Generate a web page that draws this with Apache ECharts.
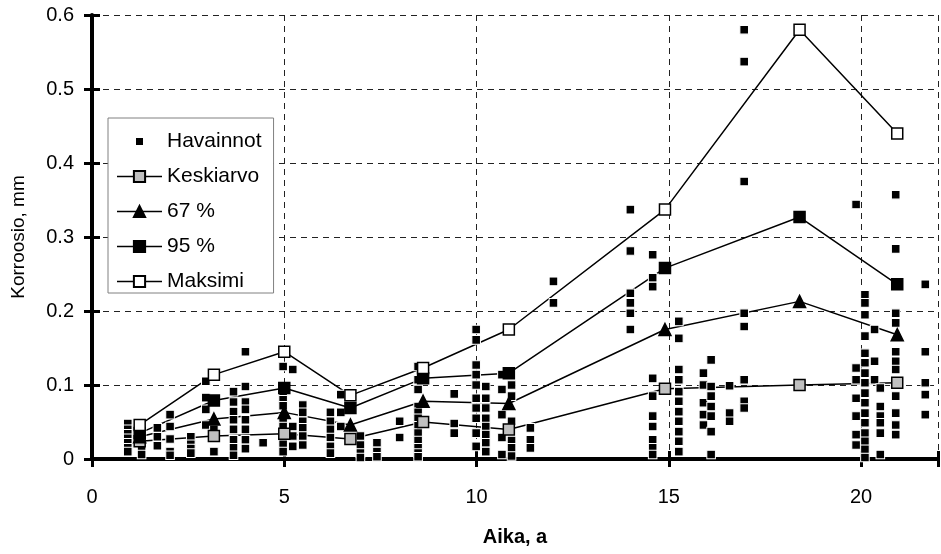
<!DOCTYPE html>
<html>
<head>
<meta charset="utf-8">
<title>Korroosio</title>
<script src="https://cdn.jsdelivr.net/npm/echarts@6/dist/echarts.min.js"></script>
<style>
  html, body { margin: 0; padding: 0; background: #fff; }
  #chart { width: 941px; height: 554px; }
</style>
</head>
<body>
<div id="chart"></div>
<script>
// Summary curves: time (years) and corrosion depth (mm)
const lineX    = [1.24, 3.17, 5.0, 6.72, 8.61, 10.84, 14.9, 18.4, 20.94];
const keskiarvo = [0.024, 0.031, 0.034, 0.027, 0.050, 0.040, 0.095, 0.100, 0.103];
const p67       = [0.030, 0.054, 0.063, 0.046, 0.078, 0.075, 0.175, 0.213, 0.168];
const p95       = [0.035, 0.079, 0.096, 0.069, 0.109, 0.116, 0.258, 0.327, 0.236];
const maksimi   = [0.046, 0.114, 0.145, 0.086, 0.123, 0.175, 0.337, 0.580, 0.440];

// Individual observations, grouped by measurement time
const obsX = [0.93, 1.29, 1.70, 2.03, 2.57, 2.96, 3.17, 3.68, 3.99, 4.45,
              4.97, 5.22, 5.48, 6.20, 6.47, 6.98, 7.41, 8.00, 8.48, 9.42,
              9.99, 10.24, 10.66, 10.91, 11.40, 12.00, 14.00, 14.58, 15.26, 15.90,
              16.10, 16.58, 16.96, 19.87, 20.10, 20.35, 20.50, 20.90, 21.67];
const obsY = [
  [0.048, 0.040, 0.034, 0.028, 0.022, 0.015, 0.010],
  [0.036, 0.012, 0.006],
  [0.042, 0.030, 0.018],
  [0.060, 0.044, 0.027, 0.010, 0.005],
  [0.030, 0.020, 0.014, 0.008],
  [0.105, 0.083, 0.067, 0.046],
  [0.040, 0.010],
  [0.091, 0.077, 0.064, 0.053, 0.040, 0.026, 0.015, 0.005],
  [0.145, 0.098, 0.077, 0.067, 0.053, 0.040, 0.026, 0.014],
  [0.022],
  [0.125, 0.090, 0.080, 0.072, 0.055, 0.044, 0.030, 0.020, 0.010],
  [0.121, 0.044, 0.031, 0.017],
  [0.073, 0.063, 0.051, 0.042, 0.031, 0.019],
  [0.063, 0.051, 0.040, 0.029, 0.017, 0.008],
  [0.087, 0.063, 0.044],
  [0.031, 0.019, 0.008, 0.002],
  [0.022, 0.010, 0.003],
  [0.051, 0.029],
  [0.125, 0.107, 0.094, 0.071, 0.063, 0.055, 0.045, 0.035, 0.025, 0.015, 0.008, 0.003],
  [0.088, 0.048, 0.035],
  [0.175, 0.161, 0.127, 0.114, 0.100, 0.082, 0.069, 0.055, 0.035, 0.017],
  [0.098, 0.082, 0.069, 0.055, 0.044, 0.033, 0.022, 0.010],
  [0.114, 0.094, 0.060, 0.029, 0.006],
  [0.100, 0.085, 0.051, 0.025, 0.015, 0.004],
  [0.042, 0.026, 0.015],
  [0.240, 0.211],
  [0.337, 0.281, 0.224, 0.211, 0.197, 0.175],
  [0.276, 0.245, 0.233, 0.109, 0.085, 0.058, 0.044, 0.026, 0.015, 0.006],
  [0.186, 0.163, 0.121, 0.107, 0.091, 0.078, 0.064, 0.051, 0.037, 0.024, 0.010],
  [0.116, 0.100, 0.076, 0.060, 0.046],
  [0.134, 0.098, 0.085, 0.071, 0.058, 0.037, 0.006],
  [0.099, 0.062, 0.051],
  [0.580, 0.537, 0.375, 0.197, 0.179, 0.107, 0.078, 0.069],
  [0.344, 0.123, 0.107, 0.082, 0.058, 0.033, 0.019],
  [0.222, 0.211, 0.195, 0.166, 0.143, 0.130, 0.116, 0.103, 0.089, 0.076, 0.062, 0.049, 0.035, 0.024, 0.013, 0.002],
  [0.175, 0.132, 0.107],
  [0.096, 0.071, 0.058, 0.049, 0.035, 0.006],
  [0.357, 0.284, 0.197, 0.184, 0.145, 0.132, 0.121, 0.085, 0.062, 0.046, 0.033],
  [0.236, 0.145, 0.103, 0.087, 0.060]
];

const FONT = '"Liberation Sans", Arial, sans-serif';

const pairs = ys => lineX.map((x, i) => [x, ys[i]]);
const obsData = [];
obsX.forEach((x, i) => obsY[i].forEach(y => obsData.push([x, y])));

const curves = [
  { name: 'Keskiarvo', data: keskiarvo, symbol: 'rect', size: 11, fill: '#c0c0c0' },
  { name: '67 %',      data: p67,       symbol: 'triangle', size: 12, fill: '#000' },
  { name: '95 %',      data: p95,       symbol: 'rect', size: 11, fill: '#000' },
  { name: 'Maksimi',   data: maksimi,   symbol: 'rect', size: 11, fill: '#fff' }
];

// connecting lines sit underneath the observation squares
const lineSeries = curves.map(c => ({
  type: 'line',
  data: pairs(c.data),
  symbol: 'none',
  z: 1,
  silent: true,
  lineStyle: { color: '#000', width: 1.5 }
}));

// markers drawn on top, named for the legend
const markerSeries = curves.map(c => ({
  type: 'line',
  name: c.name,
  data: pairs(c.data),
  symbol: c.symbol,
  symbolSize: c.size,
  showSymbol: true,
  z: 4,
  lineStyle: { opacity: 0, color: '#000', width: 1.5 },
  itemStyle: { color: c.fill, borderColor: '#000', borderWidth: 1.5 }
}));

const obsSeries = {
  type: 'scatter',
  name: 'Havainnot',
  data: obsData,
  symbol: 'rect',
  symbolSize: 8.6,
  z: 3,
  itemStyle: { color: '#000', borderColor: '#fff', borderWidth: 1, opacity: 1 }
};

const chart = echarts.init(document.getElementById('chart'), null, { renderer: 'canvas' });

const gridLine = { show: true, lineStyle: { color: '#222', width: 1, type: [6, 5] } };

chart.setOption({
  animation: false,
  backgroundColor: '#fff',
  grid: { left: 92, top: 15, right: -6, bottom: 95 },
  legend: {
    orient: 'vertical',
    left: 108,
    top: 118,
    padding: [13, 12, 1, 8],
    itemWidth: 45,
    itemHeight: 14,
    itemGap: 14,
    itemTextGap: 5,
    backgroundColor: '#fff',
    borderColor: '#808080',
    borderWidth: 1,
    borderRadius: 0,
    selectedMode: false,
    textStyle: { fontFamily: FONT, fontSize: 21, color: '#000', lineHeight: 21 },
    lineStyle: { color: '#000', width: 1.5, opacity: 1 },
    data: [
      { name: 'Havainnot', icon: 'path://M0,0L0,0M45,14L45,14M18,2.5h9v9h-9z' },
      'Keskiarvo', '67 %', '95 %', 'Maksimi'
    ]
  },
  xAxis: [{
    type: 'value',
    min: 0, max: 22, interval: 5,
    name: 'Aika, a',
    nameLocation: 'middle',
    nameGap: 68,
    nameTextStyle: { fontFamily: FONT, fontSize: 20, fontWeight: 'bold', color: '#000' },
    axisLine: { show: true, onZero: false, lineStyle: { color: '#000', width: 4 } },
    axisTick: { show: true, length: 8, lineStyle: { color: '#000', width: 3 } },
    axisLabel: { margin: 28, fontFamily: FONT, fontSize: 20, color: '#000',
                 formatter: v => (v % 5 === 0 ? String(v) : '') },
    splitLine: gridLine
  }, {
    type: 'value',
    position: 'bottom',
    min: 0, max: 22, interval: 5,
    axisLine: { show: false },
    axisTick: { show: true, inside: true, length: 8, lineStyle: { color: '#000', width: 3 } },
    axisLabel: { show: false },
    splitLine: { show: false }
  }],
  yAxis: [{
    type: 'value',
    min: 0, max: 0.6, interval: 0.1,
    name: 'Korroosio, mm',
    nameLocation: 'middle',
    nameGap: 64,
    nameTextStyle: { fontFamily: FONT, fontSize: 19, color: '#000' },
    axisLine: { show: true, onZero: false, lineStyle: { color: '#000', width: 4 } },
    axisTick: { show: true, length: 8, lineStyle: { color: '#000', width: 3 } },
    axisLabel: { margin: 18, fontFamily: FONT, fontSize: 20, color: '#000' },
    splitLine: gridLine
  }, {
    type: 'value',
    position: 'left',
    min: 0, max: 0.6, interval: 0.1,
    axisLine: { show: false },
    axisTick: { show: true, inside: true, length: 8, lineStyle: { color: '#000', width: 3 } },
    axisLabel: { show: false },
    splitLine: { show: false }
  }],
  series: [...lineSeries, obsSeries, ...markerSeries]
});
</script>
</body>
</html>
